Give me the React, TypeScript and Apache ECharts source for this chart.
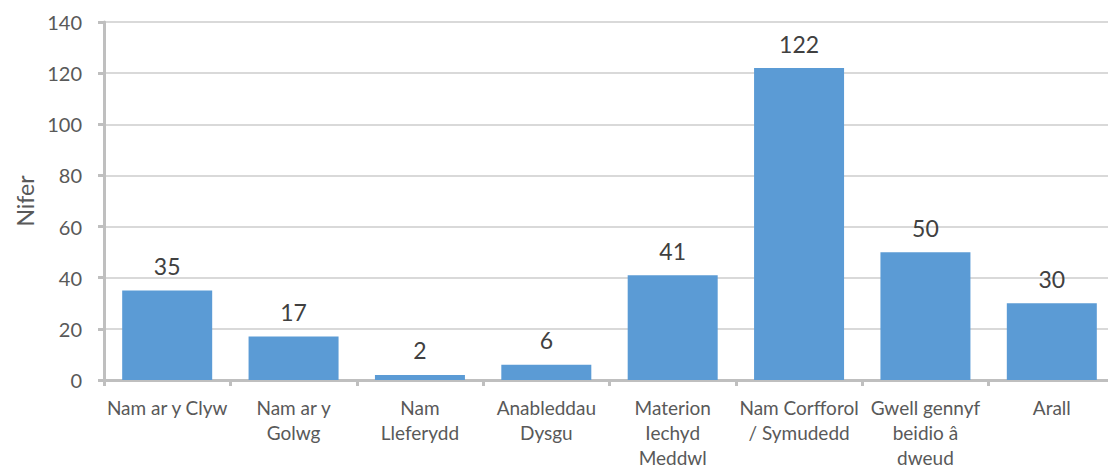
import React, { useEffect, useRef } from "react";
import * as echarts from "echarts";

const categories = [
  "Nam ar y Clyw",
  "Nam ar y\nGolwg",
  "Nam\nLleferydd",
  "Anableddau\nDysgu",
  "Materion\nIechyd\nMeddwl",
  "Nam Corfforol\n/ Symudedd",
  "Gwell gennyf\nbeidio â\ndweud",
  "Arall",
];
const values = [35, 17, 2, 6, 41, 122, 50, 30];
const yTicks = { min: 0, max: 140, interval: 20 };
const yName = "Nifer";

const FONT = "Lato, 'Open Sans', sans-serif";

export default function App() {
  const ref = useRef<HTMLDivElement>(null);
  useEffect(() => {
    const chart = echarts.init(ref.current!, null, { renderer: "svg" });
    chart.setOption({
      animation: false,
      grid: {
        left: 104,
        top: 22,
        width: 1011,
        height: 358,
        containLabel: false,
        outerBoundsMode: "none",
      },
      xAxis: {
        type: "category",
        data: categories,
        axisLine: { lineStyle: { color: "#bfbfbf", width: 3 } },
        axisTick: { show: true, length: 6, lineStyle: { color: "#bfbfbf", width: 3 } },
        axisLabel: {
          color: "#595959",
          fontSize: 19,
          fontFamily: FONT,
          margin: 15,
          lineHeight: 25,
          interval: 0,
        },
      },
      yAxis: {
        type: "value",
        min: yTicks.min,
        max: yTicks.max,
        interval: yTicks.interval,
        name: yName,
        nameLocation: "middle",
        nameGap: 68,
        nameTextStyle: { color: "#595959", fontSize: 23, fontFamily: FONT },
        axisLine: { show: true, lineStyle: { color: "#bfbfbf", width: 3 } },
        axisTick: { show: true, length: 6, lineStyle: { color: "#bfbfbf", width: 3 } },
        axisLabel: { color: "#595959", fontSize: 20, fontFamily: FONT, margin: 22 },
        splitLine: { lineStyle: { color: "#d9d9d9", width: 2 } },
      },
      series: [
        {
          type: "bar",
          data: values,
          barWidth: 90,
          itemStyle: { color: "#5b9bd5" },
          label: {
            show: true,
            position: "top",
            distance: 13,
            color: "#404040",
            fontSize: 23,
            fontFamily: FONT,
          },
        },
      ],
    });
    return () => chart.dispose();
  }, []);
  return (
    <div
      ref={ref}
      style={{ position: "absolute", left: 0, top: 0, width: 1108, height: 468, overflow: "hidden" }}
    />
  );
}
